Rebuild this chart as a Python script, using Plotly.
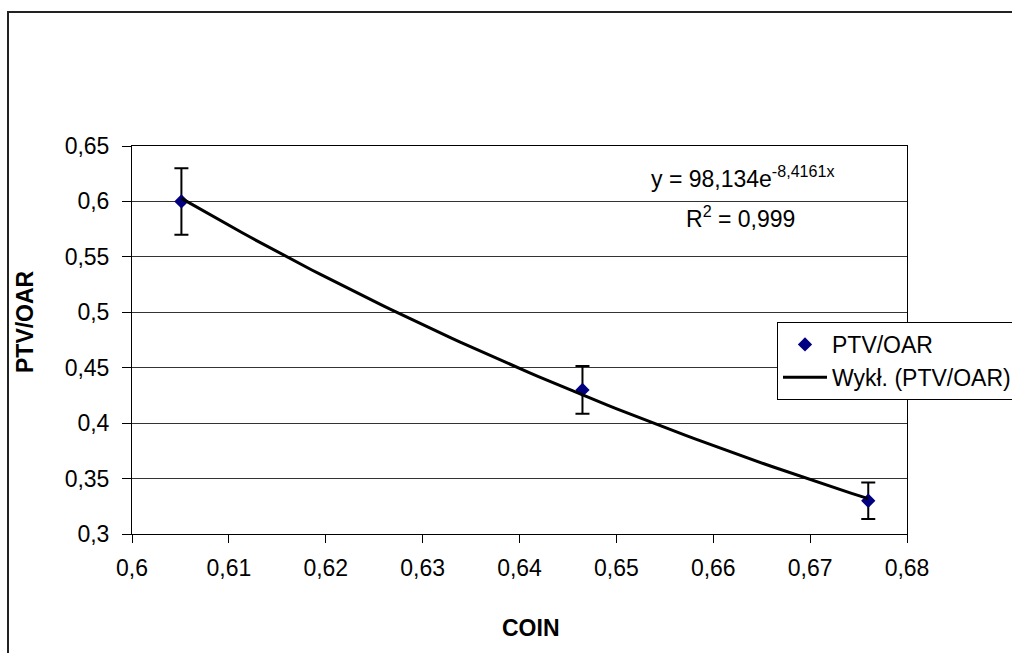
import numpy as np
import plotly.graph_objects as go

# Data
coin = [0.6051, 0.6465, 0.6760]
ptv_oar = [0.600, 0.430, 0.330]
err = [0.030, 0.0215, 0.0165]

# Exponential trendline coefficients (as displayed)
fit_a = 98.134
fit_b = -8.4161
r2 = 0.999

x_ticks = [0.6, 0.61, 0.62, 0.63, 0.64, 0.65, 0.66, 0.67, 0.68]
y_ticks = [0.3, 0.35, 0.4, 0.45, 0.5, 0.55, 0.6, 0.65]


def pl(v):
    return ("%g" % v).replace(".", ",")


FONT = "Liberation Sans, Arial, sans-serif"
FS = 23
W, H = 1012, 653
L, R, T, B = 132, 105, 146, 119
pw, ph = W - L - R, H - T - B


def px(xp):
    return (xp - L) / pw


def py(yp):
    return (H - B - yp) / ph


xs = np.linspace(min(coin), max(coin), 80)
ys = fit_a * np.exp(fit_b * xs)

fig = go.Figure()
fig.add_trace(go.Scatter(
    x=coin, y=ptv_oar, mode="markers", name="PTV/OAR",
    marker=dict(symbol="diamond", size=11, color="#000080"),
    error_y=dict(type="data", array=err, visible=True, color="black",
                 thickness=2, width=7),
))
fig.add_trace(go.Scatter(
    x=xs, y=ys, mode="lines", name="Wykł. (PTV/OAR)",
    line=dict(color="black", width=3),
))

fig.update_layout(
    width=W, height=H,
    margin=dict(l=L, r=R, t=T, b=B, autoexpand=False),
    paper_bgcolor="white", plot_bgcolor="white",
    font=dict(family=FONT, size=FS, color="black"),
    showlegend=True,
    legend=dict(
        x=px(777), y=py(322), xanchor="left", yanchor="top",
        bgcolor="white", bordercolor="black", borderwidth=1,
        font=dict(size=FS), itemwidth=44, tracegroupgap=0,
    ),
    xaxis=dict(
        range=[0.6, 0.68], tickvals=x_ticks, ticktext=[pl(v) for v in x_ticks],
        showgrid=False, zeroline=False, showline=True, linecolor="black",
        linewidth=1, mirror=True, ticks="outside", ticklen=8,
        tickcolor="black", ticklabelstandoff=5,
    ),
    yaxis=dict(
        range=[0.3, 0.65], tickvals=y_ticks, ticktext=[pl(v) for v in y_ticks],
        showgrid=True, gridcolor="#333333", gridwidth=1, zeroline=False,
        showline=True, linecolor="black", linewidth=1, mirror=True,
        ticks="outside", ticklen=9, tickcolor="black", ticklabelstandoff=8,
    ),
    shapes=[dict(
        type="rect", xref="paper", yref="paper",
        x0=px(8), x1=px(1030), y0=py(670), y1=py(12),
        line=dict(color="#222222", width=2), fillcolor="rgba(0,0,0,0)",
        layer="below",
    )],
    annotations=[
        dict(text="y = " + pl(fit_a) + "e<sup>" + pl(fit_b) + "x</sup>",
             xref="paper", yref="paper", x=px(743), y=py(177),
             showarrow=False, xanchor="center", yanchor="middle",
             font=dict(size=FS)),
        dict(text="R<sup>2</sup> = " + pl(r2),
             xref="paper", yref="paper", x=px(740), y=py(217),
             showarrow=False, xanchor="center", yanchor="middle",
             font=dict(size=FS)),
        dict(text="<b>COIN</b>", xref="paper", yref="paper",
             x=px(531), y=py(628), showarrow=False,
             xanchor="center", yanchor="middle", font=dict(size=FS)),
        dict(text="<b>PTV/OAR</b>", xref="paper", yref="paper",
             x=px(25), y=py(322), showarrow=False, textangle=-90,
             xanchor="center", yanchor="middle", font=dict(size=FS)),
    ],
)

fig.write_html("out.html")
